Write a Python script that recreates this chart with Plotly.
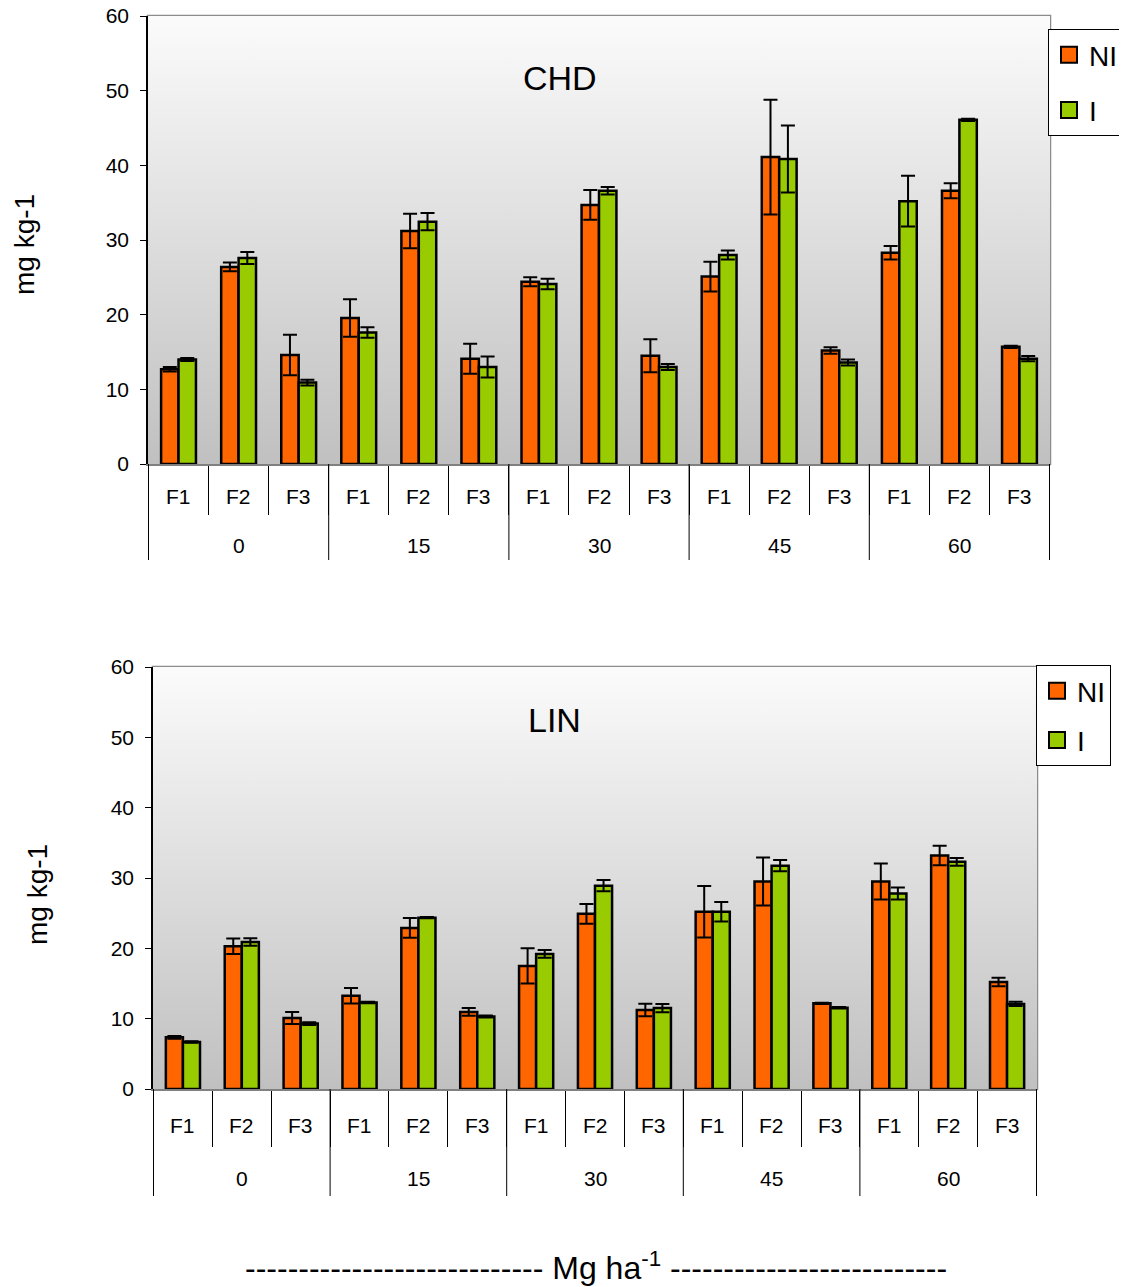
import base64
import plotly.graph_objects as go

# ---------------- data ----------------
groups = ["0", "15", "30", "45", "60"]
fractions = ["F1", "F2", "F3"]

chd_ni = [12.7, 26.4, 14.6, 19.55, 31.2, 14.1, 24.4, 34.7, 14.5, 25.1, 41.1, 15.2, 28.3, 36.6, 15.7]
chd_ni_err = [0.3, 0.6, 2.7, 2.5, 2.3, 2.0, 0.6, 2.0, 2.2, 2.0, 7.7, 0.45, 0.9, 1.0, 0.15]
chd_i = [14.0, 27.6, 10.9, 17.6, 32.45, 13.0, 24.1, 36.6, 13.0, 28.0, 40.85, 13.6, 35.2, 46.1, 14.1]
chd_i_err = [0.2, 0.8, 0.4, 0.7, 1.15, 1.4, 0.7, 0.5, 0.4, 0.6, 4.5, 0.4, 3.4, 0.15, 0.35]

lin_ni = [7.35, 20.3, 10.1, 13.27, 22.9, 10.95, 17.5, 24.9, 11.23, 25.2, 29.5, 12.18, 29.5, 33.2, 15.2]
lin_ni_err = [0.2, 1.1, 0.85, 1.1, 1.4, 0.55, 2.5, 1.4, 0.9, 3.65, 3.4, 0.1, 2.55, 1.4, 0.6]
lin_i = [6.68, 20.9, 9.3, 12.3, 24.36, 10.3, 19.2, 28.9, 11.5, 25.2, 31.75, 11.56, 27.8, 32.3, 12.1]
lin_i_err = [0.1, 0.55, 0.2, 0.1, 0.1, 0.15, 0.55, 0.8, 0.6, 1.4, 0.8, 0.1, 0.85, 0.55, 0.3]

series_names = ["NI", "I"]
y_ticks = [0, 10, 20, 30, 40, 50, 60]

# ---------------- styling ----------------
OFF = 8                      # default page body margin
W, H = 1127 - OFF, 1287 - OFF
FONT = "Liberation Sans, Arial, sans-serif"
ORANGE = "#ff6600"
GREEN = "#99cc00"


def py(p):
    return 1 - (p - OFF) / H


def px(p):
    return (p - OFF) / W


cats = [f"{g}|{f}" for g in groups for f in fractions]

grad_svg = (
    "<svg xmlns='http://www.w3.org/2000/svg' width='100' height='100' preserveAspectRatio='none'>"
    "<defs><linearGradient id='g' x1='0' y1='0' x2='0' y2='1'>"
    "<stop offset='0' stop-color='#fbfbfb'/><stop offset='1' stop-color='#c0c0c0'/>"
    "</linearGradient></defs><rect width='100' height='100' fill='url(#g)'/></svg>"
)
grad_src = "data:image/svg+xml;base64," + base64.b64encode(grad_svg.encode()).decode()

panels = [
    dict(title="CHD", ni=chd_ni, ni_err=chd_ni_err, i=chd_i, i_err=chd_i_err,
         xa="x", ya="y", x0=148, x1=1050, ytop=16, ybot=464,
         flab=497, glab=545, tlen=49, glen=96, title_xy=(560, 78),
         ytitle_xy=(25, 245), legend="legend"),
    dict(title="LIN", ni=lin_ni, ni_err=lin_ni_err, i=lin_i, i_err=lin_i_err,
         xa="x2", ya="y2", x0=153, x1=1037, ytop=667, ybot=1089,
         flab=1125, glab=1178, tlen=56, glen=107, title_xy=(554, 720),
         ytitle_xy=(37, 895), legend="legend2"),
]

fig = go.Figure()
annotations = []
shapes = []
images = []


def txt(x, y, text, size, xref="paper", angle=0, family=FONT):
    return dict(x=x, y=y, xref=xref, yref="paper", text=text, showarrow=False,
                xanchor="center", yanchor="middle", textangle=angle,
                font=dict(size=size, color="black", family=family))


for k, p in enumerate(panels):
    for name, vals, errs, col in [("NI", p["ni"], p["ni_err"], ORANGE),
                                   ("I", p["i"], p["i_err"], GREEN)]:
        fig.add_trace(go.Bar(
            x=cats, y=vals, name=name, xaxis=p["xa"], yaxis=p["ya"],
            marker=dict(color=col, line=dict(color="black", width=2.5)),
            error_y=dict(type="data", array=errs, color="black", thickness=2, width=7),
            showlegend=False,
        ))
        # legend key (square swatch, larger than the default bar icon)
        fig.add_trace(go.Scatter(
            x=[None], y=[None], name=name, mode="markers", xaxis=p["xa"], yaxis=p["ya"],
            marker=dict(symbol="square", size=16, color=col, line=dict(color="black", width=2)),
            legend=p["legend"], legendgroup=f"{p['legend']}_{name}", hoverinfo="skip",
        ))
    xref = p["xa"]
    dom = f"{xref} domain"
    ydom = f"{p['ya']} domain"
    images.append(dict(source=grad_src, xref=dom, yref=ydom, x=0, y=1, sizex=1, sizey=1,
                       sizing="stretch", layer="below", xanchor="left", yanchor="top"))
    shapes.append(dict(type="rect", xref=dom, yref=ydom, x0=0, x1=1, y0=0, y1=1,
                       line=dict(color="#8c8c8c", width=2.5), layer="below"))
    # category labels
    for gi, g in enumerate(groups):
        for fi, f in enumerate(fractions):
            annotations.append(txt(f"{g}|{f}", py(p["flab"]), f, 21, xref=xref))
        annotations.append(txt(f"{g}|F2", py(p["glab"]), g, 21, xref=xref))
    for b in range(len(groups) + 1):
        shapes.append(dict(type="line", xref=xref, yref="paper",
                           x0=b * len(fractions) - 0.5, x1=b * len(fractions) - 0.5,
                           y0=py(p["ybot"]), y1=py(p["ybot"] + p["glen"]),
                           line=dict(color="black", width=1)))
    annotations.append(txt(px(p["title_xy"][0]), py(p["title_xy"][1]), p["title"], 34))
    annotations.append(txt(px(p["ytitle_xy"][0]), py(p["ytitle_xy"][1]), "mg kg-1", 28, angle=-90))

annotations.append(txt(px(596), py(1266),
                       "-" * 28 + " Mg ha<sup>-1</sup> " + "-" * 26, 32))

axis_common_x = dict(type="category", showticklabels=False, ticks="outside", tickson="boundaries",
                     tickcolor="black", tickwidth=1, showline=True, linecolor="#808080", linewidth=2,
                     showgrid=False, zeroline=False, fixedrange=True, automargin=False)
axis_common_y = dict(range=[0, 60], tickvals=y_ticks, ticks="outside", ticklen=6, tickcolor="black",
                     showline=True, linecolor="black", linewidth=1.5, showgrid=False, zeroline=False,
                     automargin=False, ticklabelstandoff=7, ticklabeloverflow="allow", fixedrange=True,
                     tickfont=dict(size=21, color="black", family=FONT))

p0, p1 = panels
fig.update_layout(
    width=W, height=H, autosize=False,
    margin=dict(l=0, r=0, t=0, b=0, pad=0, autoexpand=False),
    paper_bgcolor="white", plot_bgcolor="rgba(0,0,0,0)",
    barmode="group", bargap=0.42, bargroupgap=0,
    font=dict(family=FONT, color="black"),
    xaxis=dict(domain=[px(p0["x0"]), px(p0["x1"])], anchor="y", ticklen=p0["tlen"], **axis_common_x),
    yaxis=dict(domain=[py(p0["ybot"]), py(p0["ytop"])], anchor="x", **axis_common_y),
    xaxis2=dict(domain=[px(p1["x0"]), px(p1["x1"])], anchor="y2", ticklen=p1["tlen"], **axis_common_x),
    yaxis2=dict(domain=[py(p1["ybot"]), py(p1["ytop"])], anchor="x2", **axis_common_y),
    legend=dict(x=px(1048), y=py(29), xanchor="left", yanchor="top", bgcolor="white",
                bordercolor="black", borderwidth=1, tracegroupgap=16, itemsizing="trace",
                font=dict(size=28, color="black", family=FONT)),
    legend2=dict(x=px(1036), y=py(665), xanchor="left", yanchor="top", bgcolor="white",
                 bordercolor="black", borderwidth=1, tracegroupgap=10, itemsizing="trace",
                 font=dict(size=28, color="black", family=FONT)),
    annotations=annotations, shapes=shapes, images=images,
    showlegend=True,
)

fig.write_html("out.html")
